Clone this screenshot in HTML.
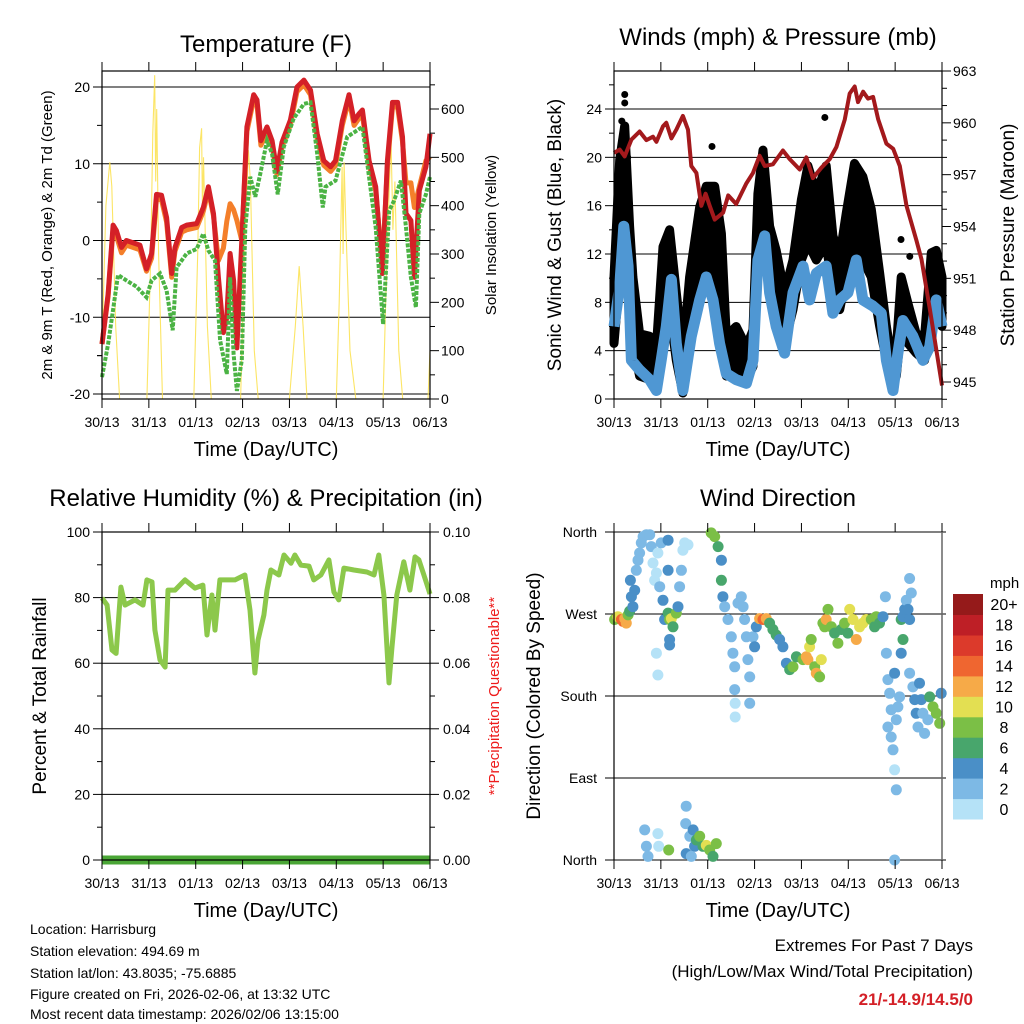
<!DOCTYPE html>
<html><head><meta charset="utf-8"><style>
html,body{margin:0;padding:0;background:#fff;}
svg{display:block;font-family:"Liberation Sans",sans-serif;}
</style></head><body>
<svg id="chart" xmlns="http://www.w3.org/2000/svg" width="1024" height="1024" viewBox="0 0 1024 1024">
<g id="g1"></g>
<g id="g2"></g>
<g id="g3"></g>
<g id="g4"></g>
<g font-size="14" fill="#000">
<text x="30" y="934">Location: Harrisburg</text>
<text x="30" y="956">Station elevation: 494.69 m</text>
<text x="30" y="978">Station lat/lon: 43.8035; -75.6885</text>
<text x="30" y="999">Figure created on Fri, 2026-02-06, at 13:32 UTC</text>
<text x="30" y="1019">Most recent data timestamp: 2026/02/06 13:15:00</text>
</g>
<g text-anchor="end">
<text x="973" y="951" font-size="17">Extremes For Past 7 Days</text>
<text x="973" y="977" font-size="17">(High/Low/Max Wind/Total Precipitation)</text>
<text x="973" y="1005" font-size="17" font-weight="bold" fill="#d42027">21/-14.9/14.5/0</text>
</g>
</svg>
<script>
// ---------- DATA ----------
const dayLabels = ["30/13","31/13","01/13","02/13","03/13","04/13","05/13","06/13"];
// Temperature panel
const tHours = [0,3.1,5.7,7.4,10,12.5,19.4,22.8,25.4,27.9,30.5,33.1,35.7,37.4,40.8,43.4,48.5,51.9,54.5,57.1,59.6,62.2,63.9,65.6,67.4,69.1,71.6,74.2,77.7,79.4,81.4,84.5,87.1,89.6,92.2,96.5,99.9,103.4,106.8,110.2,113.6,117.1,119.6,123.1,126.5,129.1,131.6,133.4,136.8,140.2,143.6,146.2,148.8,151.4,153.9,155.7,158.2,160,162.5,165.9,168];
const temp2m = [-13.5,-7,2,1.3,-0.9,0,-0.6,-3.7,-1.7,6,5.9,3,-4.3,-0.9,1.7,2,2.2,4.3,7,3.5,-4.8,-12,-10,-1.7,-5.2,-14,0,14.8,19,18.3,13,14.8,13,9,12.8,15.7,20,20.9,19.6,13.9,10.4,9.6,10.4,15.6,19,15.6,16.5,17,10.4,7,-4.3,10.4,18,18,13.5,3.5,2.6,-4.8,6.5,9.6,13.9];
const temp9m = [-13.5,-7.3,1.5,0.6,-1.6,-0.6,-1.2,-4,-2.3,5.4,5.3,2.4,-4.8,-1.4,1.1,1.4,1.7,3.8,6.5,3.2,-2.6,-1,2.5,4.8,4,2.6,0,14.2,18.4,17.7,12.4,14.2,12.4,8.6,12.2,15.1,19.4,20.3,19,13.3,9.8,9,9.8,15,18.4,15,15.9,16.4,9.8,6.5,-3.5,9.8,17.4,17.4,12.9,7.5,7.5,4.3,7,10.4,10.9];
const tdHours = [0,3.1,5.7,8.2,12.5,17.6,22.8,25.4,29.7,33.1,36.2,38.2,43.4,48.5,51.9,54.5,57.9,60.5,63.9,65.6,67.4,69.1,71.6,73.4,75.9,78.5,81.1,84.5,87.1,90,93.1,98.2,103.4,106.8,110.2,113.1,114.5,119.6,125.6,133.4,135.9,140.2,144,147.1,149.6,153.1,155.7,158.2,160.8,162.5,165.9,168];
const dewpoint = [-17.8,-13.5,-9,-4.5,-5.2,-6,-7.4,-5.2,-4.3,-6.5,-11.7,-3.5,-1.7,-1.1,0.9,-1.3,-2.6,-13,-17.4,-4.8,-14.8,-19.6,-15.6,1.7,8.3,5.7,8.7,13,11.3,6,12.2,15.9,17.8,18,11.3,4.3,7,7.8,13.5,14.8,10,1.7,-10.9,3.9,5.2,7.8,1.7,-4.8,-8.7,3.5,6,8.3];
const solarHours = [0,2,4,5,7,9,23,25,26,27,27.5,28,29,31,47,49,50,51,51.5,52,54,56,71,73,75,76,78,80,96,99,101,103,105,120,121.5,123,123.5,124,125,127,130,144,146,148,149,150,152,154,167,168];
const solar = [100,400,490,440,150,0,0,300,550,670,450,600,300,0,0,300,520,560,380,500,150,0,0,300,515,450,100,0,0,150,275,150,0,0,200,480,300,490,350,100,0,0,300,540,350,450,100,0,0,100];
const tempTicks = [-20,-10,0,10,20];
const solarTicks = [0,100,200,300,400,500,600];
// Wind panel
const windHours = [0,2.9,5,7.2,8.9,13.1,18.3,21.7,24.2,26.8,29.4,31.9,35.3,39.6,43.9,47.3,50.7,54.1,57.5,62.6,67.8,71.2,73.7,77.2,79.7,83.1,87.4,91.7,96.8,100.2,103.6,108.7,112.1,115.6,119.8,124.1,127.5,132.6,136.9,139.5,142.9,145.4,148,153.1,158.2,161.7,165.1,168];
const windSpeed = [6,9.3,14.3,11,3.2,2.4,1.6,0.7,3.2,6,9.9,4.6,0.7,5.2,8.2,10.1,8.2,4.6,2.1,1.6,1.3,3.2,11.5,13.5,8.8,6,3.8,8.8,11,8.2,10.4,11,7.1,8.2,8.8,11.5,8.2,7.7,7.1,3.2,0.7,3.8,6.5,5.2,3.2,4.3,8.2,6];
const gustHours = [0,2.9,5.5,8,9.7,13.1,18.3,21.7,25.1,28.5,31.9,35.3,38.7,43.9,47.3,51.6,55,57.5,62.6,67.8,71.2,73.7,76.3,79.7,83.1,87.4,91.7,96,99.3,103.6,108.7,112.1,115.6,119,123.2,127.5,131.8,136.1,139.5,142,144.6,147.1,150.6,154.8,159.1,162.5,165.1,168];
const gustHigh = [10.1,19.8,22.6,14.3,10.1,5.4,5.2,4.3,12.6,14,8.8,3.8,10.1,15.9,17.6,17.6,13.7,5.2,6,4.3,5.7,17,20.6,14.3,12.3,8.8,11.5,16.5,19.3,17,19.3,13.5,11.8,15.4,19.5,18.4,15.7,10.4,6,3.5,4.1,10.1,7.9,5.4,5.2,12.1,12.3,10.1];
const gustLow = [4.6,10.1,15.7,8.8,4.6,1.9,1.6,0.7,4.6,7.4,3.2,0.5,4.6,10.1,11.5,10.1,6,1.9,2.4,1.6,2.7,11.5,14.3,8.8,6.5,4.6,7.4,11.5,12.9,11.5,12.9,8.8,7.4,10.1,12.9,11.5,10.1,6,3.2,1.9,1.9,6,4.6,3.8,3.2,7.4,8.8,6];
const gustOutlierHours = [5.5,5.5,50.2,108,147,151.5,4,7];
const gustOutliers = [25.2,24.5,20.9,23.3,13.2,11.8,23,20];
const presHours = [0,2.9,5.5,8.9,13.1,16.6,20,21.7,25.1,26.8,29.4,31.9,35.3,37.9,39.6,42.2,44.7,46.9,49,51.6,55.9,58.5,62.6,67.8,71.2,74.6,77.2,81.4,86.5,90,95.1,98.5,101.9,106.2,110.5,113.9,118.2,120.7,123.3,125,127.6,130.1,132.7,135.3,139.5,143,146.4,149.8,154.9,157.5,161.8,165.2,168];
const pressure = [958.26,958.45,958.06,959.03,959.5,959.0,959.2,958.9,959.8,960,959.1,959.6,960.4,959.6,957.5,957.1,955.2,955.9,955.2,954.4,954.8,955.8,955.3,956.5,957.1,958.1,957.5,957.6,958.4,957.9,957.3,958,956.8,957.4,957.9,958.6,960.2,961.7,962.1,961.2,961.8,961.4,961.5,960.2,958.8,958.5,957.5,955.2,953.2,952.1,949.2,946.8,944.8];
const windTicks = [0,4,8,12,16,20,24];
const presTicks = [945,948,951,954,957,960,963];
// RH panel
const rhHours = [0,2.6,5.1,7.2,9.7,11.8,16.9,21,23,25.6,27.1,29.7,32.3,33.8,37.4,42.5,47.6,51.7,53.8,56.3,57.9,60.4,68.1,73.2,75.8,78.3,79.9,82.9,84.5,86.5,90.6,93.2,96.8,98.8,101.9,106,108.5,112.1,116.2,118.8,121.3,123.9,129,135.7,139.3,141.8,144.4,147,148.5,151,154.6,157.7,160.3,162.3,164.9,168];
const rh = [79.9,77.7,64,63,83.2,77.7,79.3,77.7,85.4,84.8,70.1,61,58.8,82.3,82.3,85.4,82.9,83.8,68.6,80.8,70.1,85.4,85.4,86.9,76.2,57,67,74.7,82.3,88.4,86.9,93,90.5,93,89.9,89.6,85.4,86.9,91.5,81.7,79.3,89,88.4,87.8,86.9,93,80.8,54,64.6,80.8,90.9,82.3,92.4,91.5,86.9,81.1];
const precipHours = [0,168];
const precip = [0,0];
const rhTicks = [0,20,40,60,80,100];
const precipTicks = ["0.00","0.02","0.04","0.06","0.08","0.10"];
// Wind direction panel
const dirHours = [0.3,2,3.8,4.6,5.5,6.3,7.2,8,8.4,8.9,9.7,10.6,11.4,12.3,13.1,14,14.9,16.6,18.3,19.1,20,20.8,21.7,22.5,23.4,21.7,22.5,24.2,25.1,25.9,27.7,28.5,29.4,30.2,28.5,28.5,27.7,27.7,31.9,32.8,33.6,34.5,35.3,36.2,37.9,49.8,51.6,53.3,55,55,55.8,56.7,58.4,60.1,60.9,61.8,61.8,62.1,62.1,63.5,65.2,66.1,66.9,67.8,68.6,69.5,69.5,71.2,72,72.9,74.6,76.3,78,79.7,81.4,83.1,84.8,86.5,88.3,90,91.7,93.4,96.8,98.5,99.3,100.2,101,102.8,103.6,105.3,106.2,107,107.9,108.7,109.6,111.3,113,114.7,116.4,118.1,119.8,120.7,122.4,124.1,125.8,127.5,129.2,131.8,133.5,134.3,136,137.8,139,139.5,140.3,141.2,142,140.3,142,142.9,143.7,144.6,144.6,145.4,146.3,143.7,147.1,148,148.9,149.7,150.6,151.4,151.4,152.3,148,147.1,151.4,153.1,154,154.8,155.7,156.5,157.4,158.2,159.1,160.8,161.7,163.4,165.1,166.8,167.6,15.7,16.6,17.4,22.5,22.9,28,37,36.7,38.8,40.5,41.3,42.2,43.9,45.6,47.3,49,50.7,52.4,37,39.6,143.7];
const dirDegrees = [264,267,264,262,265,260,269,273,307,289,278,296,318,329,337,348,355,357,357,344,326,307,315,337,300,227,203,348,285,264,271,264,265,256,242,236,351,318,271,278,300,318,340,348,346,359,355,344,329,307,289,278,264,245,227,212,187,172,157,282,289,278,264,245,220,201,172,245,234,256,265,264,265,260,253,247,242,234,216,209,212,223,220,223,220,234,242,212,205,201,220,260,256,264,275,256,249,238,253,260,249,275,264,242,256,260,264,264,256,267,260,267,289,227,198,183,165,146,135,121,99,77,154,168,179,205,264,267,275,285,275,264,309,293,242,227,205,190,176,161,146,194,176,161,139,154,179,168,161,150,183,33,15,4,29,15,11,59,40,26,33,15,22,26,15,16,11,4,18,7,4,0];
const dirSpeeds = [8,10,14,15,13,12,8,6,4,4,4,4,2,2,2,2,2,2,2,2,0,0,0,0,2,0,0,2,4,4,6,8,10,6,4,4,4,4,8,4,2,2,0,0,0,8,8,6,4,6,4,2,2,2,2,2,2,0,0,2,2,2,2,2,2,2,2,2,4,4,12,14,12,6,6,6,4,4,4,6,8,6,8,12,12,10,8,8,12,8,10,8,8,12,8,8,6,8,6,8,6,10,10,12,10,10,10,8,6,8,6,4,2,2,2,2,2,2,2,2,0,2,2,2,2,4,6,4,4,2,4,4,2,2,6,4,2,2,4,4,2,4,4,2,2,2,6,8,8,8,4,2,2,2,0,0,8,2,2,2,4,4,6,8,6,10,8,6,8,4,2,2];
const dirTickLabels = ["North","East","South","West","North"];
const speedBins = ["0","2","4","6","8","10","12","14","16","18","20+"];
const speedColors = ["#b5e2f7","#7db9e5","#4a8fc7","#48a66c","#7bbf46","#e3df52","#f6aa48","#ef6630","#dc3a2b","#be1f26","#951a1a"];

// ---------- HELPERS ----------
const NS = "http://www.w3.org/2000/svg";
function mk(tag, attrs, parent){const e=document.createElementNS(NS,tag);for(const k in attrs)e.setAttribute(k,attrs[k]);parent.appendChild(e);return e;}
function lin(d0,d1,r0,r1){return v=>r0+(v-d0)/(d1-d0)*(r1-r0);}
function txt(parent,x,y,s,size,anchor,extra){const t=mk("text",Object.assign({x:x,y:y,"font-size":size,"text-anchor":anchor||"middle"},extra||{}),parent);t.textContent=s;return t;}
function pathFrom(xs,ys,sx,sy){return xs.map((h,i)=>(i?"L":"M")+sx(h).toFixed(1)+","+sy(ys[i]).toFixed(1)).join("");}

function frame(g,L,T,R,B,sx){
  const dayX=dayLabels.map((d,i)=>sx(i*24));
  dayX.forEach((x,i)=>{
    const tk=mk("line",{x1:x,x2:x,y1:B,y2:B+9,stroke:"#000","stroke-width":1},g);
    
    
    const tt=mk("line",{x1:x,x2:x,y1:T-9,y2:T,stroke:"#000","stroke-width":1},g);
    
    
    const lb=txt(g,x,B+28,dayLabels[i],14);
    
    
  });
  const xt=txt(g,(L+R)/2,B+57,"Time (Day/UTC)",20);
  
  
}
function box(g,L,T,R,B){
  const r=mk("rect",{x:L,y:T,width:R-L,height:B-T,fill:"none",stroke:"#000","stroke-width":1.2},g);
  
  
}
function hgrid(g,L,R,y){
  const l=mk("line",{x1:L,x2:R,y1:y,y2:y,stroke:"#000","stroke-width":1},g);
  
  
}
function ytick(g,x,y,len,T,B){
  if(T!==undefined && (y<T-0.5||y>B+0.5))return;
  const l=mk("line",{x1:x,x2:x+len,y1:y,y2:y,stroke:"#000","stroke-width":1},g);
  
  
}
function ytitle(g,x,y,s,size,color){
  const t=txt(g,0,0,s,size,"middle",{transform:`translate(${x},${y}) rotate(-90)`,fill:color||"#000"});
  
  
  return t;
}
function ylabel(g,x,y,s,anchor){
  const t=txt(g,x,y+5,s,14,anchor);
  
  
}

// ---------- PANEL 1: Temperature ----------
(function(){
  const g=document.getElementById("g1");
  const L=102,R=430,T=71,B=399;
  const sx=lin(0,168,L,R), sy=lin(-20,20,394,87), ss=lin(0,600,399,109);
  const tt=txt(g,266,52,"Temperature (F)",24);
  
  
  tempTicks.forEach(v=>{hgrid(g,L,R,sy(v));ytick(g,L-9,sy(v),9);ylabel(g,L-12,sy(v),String(v),"end");ytick(g,L-5,sy(v+5),5,T,B);});
  ytick(g,L-5,sy(-15),5,T,B);
  solarTicks.forEach(v=>{ytick(g,R,ss(v),9);ylabel(g,R+11,ss(v),String(v),"start");ytick(g,R,ss(v+50),5,T,B);});
  const sp=mk("path",{d:pathFrom(solarHours,solar,sx,ss),fill:"none",stroke:"#fbe04a","stroke-width":1.1,"stroke-opacity":0.85},g);
  
  
  const op=mk("path",{d:pathFrom(tHours,temp9m,sx,sy),fill:"none",stroke:"#f47f2a","stroke-width":5,"stroke-linejoin":"round"},g);
  
  
  const rp=mk("path",{d:pathFrom(tHours,temp2m,sx,sy),fill:"none",stroke:"#d42027","stroke-width":5,"stroke-linejoin":"round"},g);
  
  
  const gp=mk("path",{d:pathFrom(tdHours,dewpoint,sx,sy),fill:"none",stroke:"#4bb344","stroke-width":4,"stroke-dasharray":"4 1.5"},g);
  
  
  box(g,L,T,R,B);
  frame(g,L,T,R,B,sx);
  ytitle(g,52,235,"2m & 9m T (Red, Orange) & 2m Td (Green)",15);
  ytitle(g,496,235,"Solar Insolation (Yellow)",15);
})();

// ---------- PANEL 2: Wind & Pressure ----------
(function(){
  const g=document.getElementById("g2");
  const L=614,R=942,T=71,B=399;
  const sx=lin(0,168,L,R), sy=lin(0,24,399,109), sp=lin(945,963,382,71);
  const tt=txt(g,778,45,"Winds (mph) & Pressure (mb)",24);
  
  
  windTicks.forEach(v=>{if(v>0)hgrid(g,L,R,sy(v));ytick(g,L-9,sy(v),9);ylabel(g,L-12,sy(v),String(v),"end");ytick(g,L-5,sy(v+2),5,T,B);});
  presTicks.forEach(v=>{ytick(g,R,sp(v),9);ylabel(g,R+11,sp(v),String(v),"start");ytick(g,R,sp(v+1),5,T,B);ytick(g,R,sp(v+2),5,T,B);});
  ytick(g,R,sp(944),5,T,B);
  const env=gustHours.map((h,i)=>sx(h).toFixed(1)+","+sy(gustHigh[i]).toFixed(1)).concat(gustHours.slice().reverse().map((h,i)=>{const j=gustHours.length-1-i;return sx(h).toFixed(1)+","+sy(gustLow[j]).toFixed(1);}));
  const gp=mk("polygon",{points:env.join(" "),fill:"#000",stroke:"#000","stroke-width":9,"stroke-linejoin":"round"},g);
  
  
  gustOutlierHours.forEach((h,i)=>{
    const c=mk("circle",{cx:sx(h),cy:sy(gustOutliers[i]),r:3.5,fill:"#000"},g);
    
    
  });
  const bp=mk("path",{d:pathFrom(windHours,windSpeed,sx,sy),fill:"none",stroke:"#4f97d3","stroke-width":11,"stroke-linejoin":"round"},g);
  
  
  const pp=mk("path",{d:pathFrom(presHours,pressure,sx,sp),fill:"none",stroke:"#a3191c","stroke-width":4,"stroke-linejoin":"round"},g);
  
  
  box(g,L,T,R,B);
  frame(g,L,T,R,B,sx);
  ytitle(g,561,235,"Sonic Wind & Gust (Blue, Black)",19);
  ytitle(g,1014,235,"Station Pressure (Maroon)",19);
})();

// ---------- PANEL 3: RH ----------
(function(){
  const g=document.getElementById("g3");
  const L=102,R=430,T=532,B=860;
  const sx=lin(0,168,L,R), sy=lin(0,100,B,T), spc=lin(0,0.1,B,T);
  const tt=txt(g,266,506,"Relative Humidity (%) & Precipitation (in)",24);
  
  
  rhTicks.forEach(v=>{if(v>0&&v<100)hgrid(g,L,R,sy(v));ytick(g,L-9,sy(v),9);ylabel(g,L-12,sy(v),String(v),"end");ytick(g,L-5,sy(v+10),5,T,B);});
  precipTicks.forEach(v=>{const y=spc(parseFloat(v));ytick(g,R,y,9);ylabel(g,R+13,y,v,"start");ytick(g,R,spc(parseFloat(v)+0.01),5,T,B);});
  const pr=mk("path",{d:pathFrom(precipHours,precip,sx,spc),fill:"none",stroke:"#4aa636","stroke-width":9},g);
  
  
  const rp=mk("path",{d:pathFrom(rhHours,rh,sx,sy),fill:"none",stroke:"#8cc84b","stroke-width":5,"stroke-linejoin":"round"},g);
  
  
  box(g,L,T,R,B);
  frame(g,L,T,R,B,sx);
  ytitle(g,46,696,"Percent & Total Rainfall",19);
  ytitle(g,499,696,"**Precipitation Questionable**",15,"#ee1c1c");
})();

// ---------- PANEL 4: Wind direction ----------
(function(){
  const g=document.getElementById("g4");
  const L=614,R=942,T=532,B=860;
  const sx=lin(0,168,L,R), sy=lin(0,360,B,T);
  const tt=txt(g,778,506,"Wind Direction",24);
  
  
  dirTickLabels.forEach((s,i)=>{const y=sy(i*90);hgrid(g,L-9,R+4,y);ylabel(g,L-17,y,s,"end");});
  dirHours.forEach((h,i)=>{
    const c=mk("circle",{cx:sx(h).toFixed(1),cy:sy(dirDegrees[i]).toFixed(1),r:5.5,fill:speedColors[Math.min(10,Math.floor(dirSpeeds[i]/2))]},g);
    
    
  });
  const fl=mk("line",{x1:L,x2:L,y1:T,y2:B,stroke:"#000","stroke-width":1.2},g);
  
  
  const fr=mk("line",{x1:R,x2:R,y1:T,y2:B,stroke:"#666","stroke-width":1.5},g);
  
  
  frame(g,L,T,R,B,sx);
  ytitle(g,540,696,"Direction (Colored By Speed)",19);
  const cb=mk("g",{},g);
  
  
  const cbTop=594, cbH=225/11;
  speedBins.forEach((s,i)=>{
    const j=10-i;
    const r=mk("rect",{x:953,y:(cbTop+j*cbH).toFixed(1),width:30,height:(cbH+0.5).toFixed(1),fill:speedColors[i]},cb);
    
    
    const t=txt(cb,1004,cbTop+j*cbH+cbH/2+6,s,16);
    
    
  });
  const mt=txt(cb,990,588,"mph",15,"start");
  
  
})();
</script>
</body></html>
